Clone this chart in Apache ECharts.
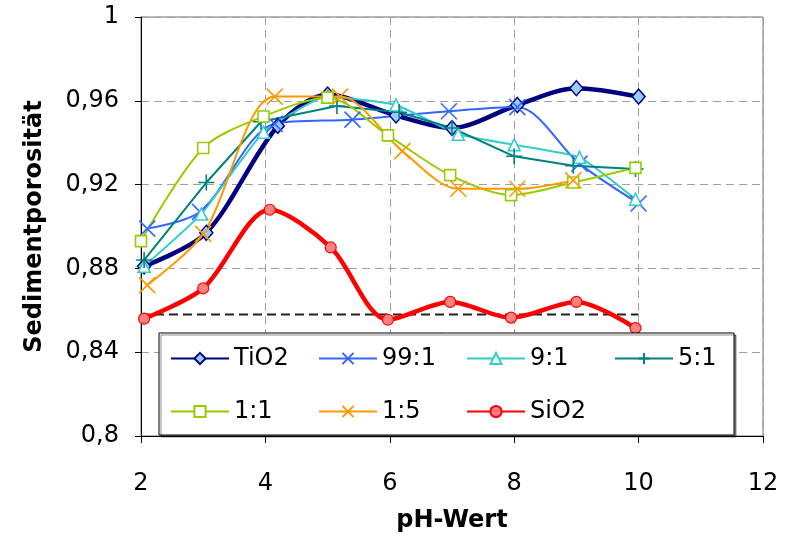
<!DOCTYPE html>
<html>
<head>
<meta charset="utf-8">
<script src="https://cdn.jsdelivr.net/npm/echarts@6/dist/echarts.min.js"></script>
<style>html,body{margin:0;padding:0;background:#fff}#c{width:790px;height:538px}</style>
</head>
<body>
<div id="c"></div>
<script>
const xTicks = [2, 4, 6, 8, 10, 12];
const yTicks = [0.8, 0.84, 0.88, 0.92, 0.96, 1];

const tio2X = [2.05, 3.05, 4.2, 5, 6.1, 7, 8.05, 9, 10];
const tio2Y = [0.881, 0.897, 0.948, 0.963, 0.953, 0.947, 0.958, 0.966, 0.962];
const r99X = [2.1, 2.95, 4.15, 5.4, 6.95, 8.05, 9.05, 10];
const r99Y = [0.899, 0.907, 0.949, 0.951, 0.955, 0.957, 0.930, 0.911];
const r9X = [2.05, 2.97, 3.97, 5, 6.1, 7.1, 8, 9.05, 9.95];
const r9Y = [0.881, 0.906, 0.945, 0.962, 0.958, 0.944, 0.939, 0.933, 0.913];
const r5X = [2.05, 3.05, 3.93, 5.15, 6.15, 7, 8, 8.95, 9.95];
const r5Y = [0.884, 0.921, 0.950, 0.9575, 0.9545, 0.947, 0.9335, 0.929, 0.9275];
const r1X = [2, 3, 3.97, 5, 5.97, 6.97, 7.95, 8.95, 9.95];
const r1Y = [0.893, 0.9375, 0.9525, 0.9615, 0.9435, 0.9245, 0.915, 0.921, 0.928];
const r15X = [2.1, 3, 4.15, 5.2, 6.2, 7.1, 8.05, 8.95];
const r15Y = [0.872, 0.8965, 0.962, 0.962, 0.936, 0.918, 0.918, 0.922];
const sio2X = [2.05, 3, 4.07, 5.05, 5.97, 6.97, 7.95, 9, 9.95];
const sio2Y = [0.856, 0.8705, 0.908, 0.890, 0.8555, 0.864, 0.8565, 0.864, 0.8515];
const refX = [2, 10];
const refY = [0.858, 0.858];

const names = ['TiO2', '99:1', '9:1', '5:1', '1:1', '1:5', 'SiO2'];

function pairs(xs, ys) { return xs.map((x, i) => [x, ys[i]]); }

const X_PATH = 'path://M0,0L10,10M10,0L0,10';
const PLUS_PATH = 'path://M5,0L5,10M0,5L10,5';
const FONT = 'DejaVu Sans';

function lineSeries(name, xs, ys, color, width, symbol, size, fill, smooth, bw) {
  return {
    name: name, type: 'line', data: pairs(xs, ys),
    smooth: smooth, symbol: symbol, symbolSize: size,
    lineStyle: { color: color, width: width },
    itemStyle: { color: fill, borderColor: color, borderWidth: bw },
    emphasis: { disabled: true },
    animation: false
  };
}

const series = [
  { name: 'ref', type: 'line', data: pairs(refX, refY), symbol: 'none',
    lineStyle: { color: '#222', width: 2, type: [9, 5] }, animation: false, z: 1 },
  lineSeries('TiO2', tio2X, tio2Y, '#000080', 4.5, 'diamond', [13, 15], '#99CCFF', 0.3, 1.5),
  lineSeries('99:1', r99X, r99Y, '#3366FF', 2, X_PATH, 16, '#3366FF', 0.3, 1.6),
  lineSeries('9:1', r9X, r9Y, '#33CCCC', 2, 'triangle', 12, '#ffffff', 0.15, 1.6),
  lineSeries('5:1', r5X, r5Y, '#008080', 2, PLUS_PATH, 16, '#008080', 0, 1.6),
  lineSeries('1:1', r1X, r1Y, '#99CC00', 2, 'rect', 11, '#ffffff', 0.3, 1.6),
  lineSeries('1:5', r15X, r15Y, '#FF9900', 2, X_PATH, 16, '#FF9900', 0.3, 1.6),
  lineSeries('SiO2', sio2X, sio2Y, '#FF0000', 4.5, 'circle', 11, '#FF8080', 0.3, 1.2)
];

const fmt = v => String(+v.toFixed(2)).replace('.', ',');

const chart = echarts.init(document.getElementById('c'), null, { renderer: 'canvas' });
chart.setOption({
  backgroundColor: '#ffffff',
  animation: false,
  textStyle: { fontFamily: FONT },
  grid: { left: 141, right: 27, top: 17, bottom: 100, show: true, borderColor: '#707070', borderWidth: 1 },
  xAxis: {
    type: 'value', min: xTicks[0], max: xTicks[xTicks.length - 1], interval: 2,
    name: 'pH-Wert', nameLocation: 'middle', nameGap: 73,
    nameTextStyle: { fontFamily: FONT, fontSize: 24, fontWeight: 'bold', color: '#000' },
    axisLine: { lineStyle: { color: '#000', width: 1 } },
    axisTick: { show: true, inside: false, length: 7, lineStyle: { color: '#000' } },
    axisLabel: { fontFamily: FONT, fontSize: 24, color: '#000', margin: 36, formatter: v => String(v) },
    splitLine: { show: true, lineStyle: { color: '#A0A0A0', width: 1, type: [8, 5] } }
  },
  yAxis: {
    type: 'value', min: yTicks[0], max: yTicks[yTicks.length - 1], interval: 0.04,
    name: 'Sedimentporosität', nameLocation: 'middle', nameGap: 94,
    nameTextStyle: { fontFamily: FONT, fontSize: 24, fontWeight: 'bold', color: '#000' },
    axisLine: { show: true, lineStyle: { color: '#000', width: 1 } },
    axisTick: { show: true, inside: false, length: 6, lineStyle: { color: '#000' } },
    axisLabel: { fontFamily: FONT, fontSize: 24, color: '#000', margin: 22, formatter: fmt },
    splitLine: { show: true, lineStyle: { color: '#A0A0A0', width: 1, type: [8, 5] } }
  },
  legend: {
    data: names,
    left: 159, top: 333, width: 580,
    orient: 'horizontal',
    padding: [13, 0, 11, 11],
    itemWidth: 58, itemHeight: 14, itemGap: 28,
    backgroundColor: '#ffffff',
    borderColor: '#000', borderWidth: 1,
    shadowColor: 'rgba(0,0,0,0.45)', shadowOffsetX: 2, shadowOffsetY: 2, shadowBlur: 0,
    textStyle: { fontFamily: FONT, fontSize: 24, color: '#000', width: 56, lineHeight: 25 },
    selectedMode: false
  },
  series: series
});
</script>
</body>
</html>
